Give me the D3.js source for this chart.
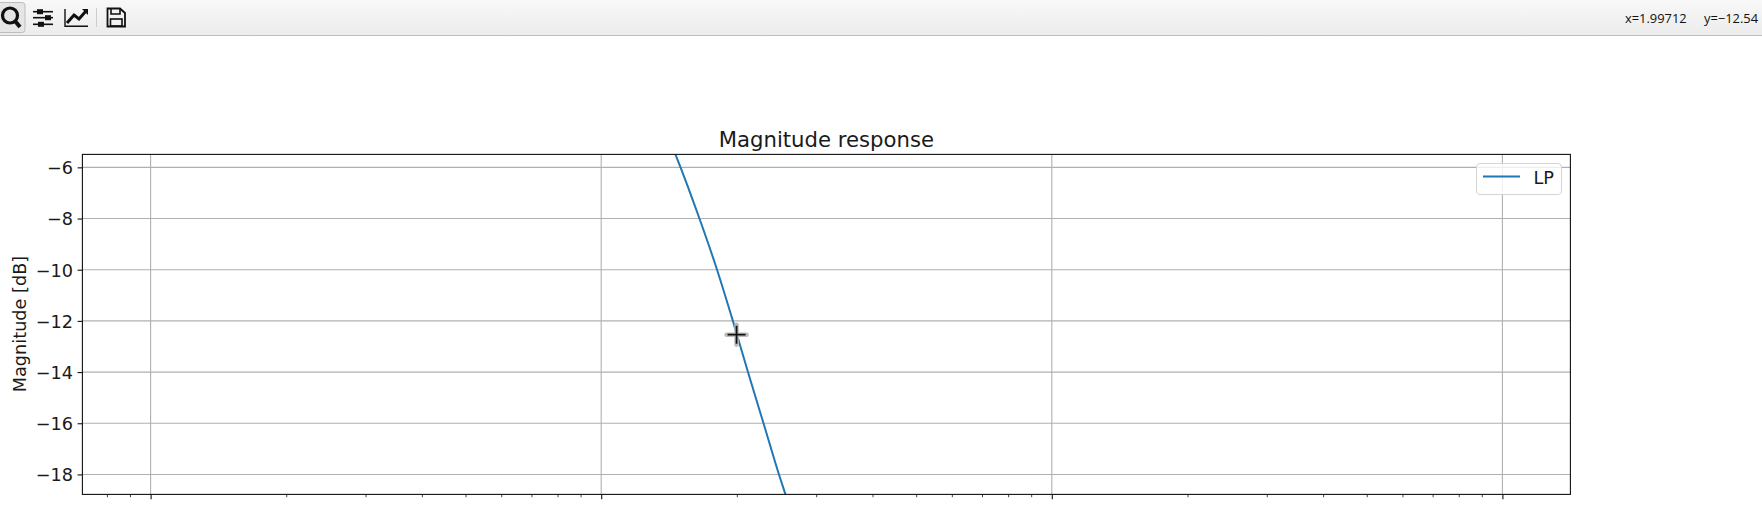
<!DOCTYPE html>
<html><head><meta charset="utf-8">
<script src="https://cdn.jsdelivr.net/npm/d3@7/dist/d3.min.js"></script>
<style>html,body{margin:0;padding:0;background:#fff;overflow:hidden}svg{display:block}text{font-family:"DejaVu Sans",sans-serif;fill:#1a1a1a}</style>
</head><body><svg id="c" width="1762" height="509"></svg>
<script>
const freq = [1.462, 1.5, 1.652, 1.806, 1.96, 2.117, 2.292, 2.48, 2.564];
const magnitude = [-5.5, -6, -8, -9.98, -12, -14, -16, -18, -18.78];
const yTicks = [-6, -8, -10, -12, -14, -16, -18];
const xMajor = [0.1, 1, 10, 100];
const xMinor = [0.08,0.09,0.2,0.3,0.4,0.5,0.6,0.7,0.8,0.9,2,3,4,5,6,7,8,9,20,30,40,50,60,70,80,90];
const seriesName = "LP";
const svg = d3.select("#c");
const L=82.4,R=1570.4,T=154.4,B=494.4;
const x=d3.scaleLog().domain([Math.pow(10,(L-601.2)/450.6),Math.pow(10,(R-601.2)/450.6)]).range([L,R]);
const y=d3.scaleLinear().domain([-5.494,-18.78]).range([T,B]);
const defs=svg.append("defs");
const g=defs.append("linearGradient").attr("id","tb").attr("x1",0).attr("x2",0).attr("y1",0).attr("y2",1);
g.append("stop").attr("offset",0).attr("stop-color","#f8f8f8");
g.append("stop").attr("offset",1).attr("stop-color","#ececec");
defs.append("clipPath").attr("id","clip").append("rect").attr("x",L).attr("y",T).attr("width",R-L).attr("height",B-T);
svg.append("rect").attr("width",1762).attr("height",35).attr("fill","url(#tb)");
svg.append("line").attr("x1",0).attr("x2",1762).attr("y1",35.5).attr("y2",35.5).attr("stroke","#bdbdbd");
svg.append("rect").attr("x",-6).attr("y",2.5).attr("width",31).attr("height",30).attr("rx",3).attr("fill","#e6e6e6").attr("stroke","#bdbdbd");
const ic=svg.append("g").attr("fill","none").attr("stroke","#111");
ic.append("circle").attr("cx",10).attr("cy",15.5).attr("r",7.5).attr("stroke-width",3.2);
ic.append("line").attr("x1",15).attr("y1",21).attr("x2",20).attr("y2",27).attr("stroke-width",4);
[[11.7,40],[17.7,48],[24.3,41]].forEach(([yy,cx])=>{ic.append("line").attr("x1",33).attr("x2",53).attr("y1",yy).attr("y2",yy).attr("stroke-width",1.6);
ic.append("rect").attr("x",cx-3).attr("y",yy-2.5).attr("width",6).attr("height",5).attr("fill","#111").attr("stroke","none");});
ic.append("path").attr("d","M65 9V26.3H88").attr("stroke-width",1.4);
ic.append("path").attr("d","M67 23L74 15L79 19L86 11").attr("stroke-width",3);
ic.append("path").attr("d","M82 9H88V15Z").attr("fill","#111").attr("stroke","none");
ic.append("line").attr("x1",96.5).attr("x2",96.5).attr("y1",8).attr("y2",27).attr("stroke","#ccc");
ic.append("path").attr("d","M107.5 8.5H120L125 13V26.5H107.5Z").attr("stroke-width",1.8);
ic.append("path").attr("d","M111 9V14H120V9").attr("stroke-width",1.6);
ic.append("rect").attr("x",110.5).attr("y",19).attr("width",11.5).attr("height",7).attr("stroke-width",1.6);
svg.append("text").attr("x",1625).attr("y",23).attr("font-size",12.9).attr("style","fill:#111;font-family:'Open Sans',sans-serif").text("x=1.99712");
svg.append("text").attr("x",1704).attr("y",23).attr("font-size",12.9).attr("style","fill:#111;font-family:'Open Sans',sans-serif").text("y=−12.54");
const grid=svg.append("g").attr("stroke","#b0b0b0").attr("stroke-width",1.1);
xMajor.forEach(v=>grid.append("line").attr("x1",x(v)).attr("x2",x(v)).attr("y1",T).attr("y2",B));
yTicks.forEach(v=>grid.append("line").attr("x1",L).attr("x2",R).attr("y1",y(v)).attr("y2",y(v)));
svg.append("path").attr("clip-path","url(#clip)").attr("fill","none").attr("stroke","#1f77b4").attr("stroke-width",2)
 .attr("d",d3.line().x((d,i)=>x(freq[i])).y(d=>y(d)).curve(d3.curveMonotoneX)(magnitude));
const yAxis=d3.axisLeft(y).tickValues(yTicks).tickSize(4.8).tickPadding(4.5).tickFormat(d=>String(d).replace("-","−"));
const ya=svg.append("g").attr("transform",`translate(${L},0)`).call(yAxis);
ya.select(".domain").remove();ya.selectAll("line").attr("stroke","#111").attr("stroke-width",1.1);
ya.selectAll("text").attr("font-size",17.7).attr("dy","0.36em");
const xa=svg.append("g").attr("transform",`translate(0,${B})`).call(d3.axisBottom(x).tickValues(xMajor).tickSize(4.8).tickFormat(""));
xa.select(".domain").remove();xa.selectAll("line").attr("stroke","#111").attr("stroke-width",1.1);
const xm=svg.append("g").attr("transform",`translate(0,${B})`).call(d3.axisBottom(x).tickValues(xMinor.filter(v=>x(v)>=L&&x(v)<=R)).tickSize(2.8).tickFormat(""));
xm.select(".domain").remove();xm.selectAll("line").attr("stroke","#111").attr("stroke-width",.8);
svg.append("rect").attr("x",L).attr("y",T).attr("width",R-L).attr("height",B-T).attr("fill","none").attr("stroke","#111").attr("stroke-width",1.1);
svg.append("text").attr("x",826.4).attr("y",146.5).attr("text-anchor","middle").attr("font-size",21.2).text("Magnitude response");
svg.append("text").attr("transform","translate(26,324)  rotate(-90)").attr("text-anchor","middle").attr("font-size",17.7).text("Magnitude [dB]");
svg.append("rect").attr("x",1476.5).attr("y",163.5).attr("width",85).attr("height",31).attr("rx",3.5).attr("fill","#fff").attr("fill-opacity",.8).attr("stroke","#d5d5d5");
svg.append("line").attr("x1",1483).attr("x2",1520).attr("y1",176.5).attr("y2",176.5).attr("stroke","#1f77b4").attr("stroke-width",2);
svg.append("text").attr("x",1533.5).attr("y",183.5).attr("font-size",17.7).text(seriesName);
const cur=svg.append("g").attr("transform",`translate(${x(1.99712)},${y(-12.54)})`);
cur.append("path").attr("d","M-10 0H10M0 -10V10").attr("stroke","#bbb").attr("stroke-width",4.5).attr("fill","none").attr("stroke-linecap","round");
cur.append("path").attr("d","M-9 0H9M0 -9V9").attr("stroke","#111").attr("stroke-width",1.8).attr("fill","none");
</script></body></html>
